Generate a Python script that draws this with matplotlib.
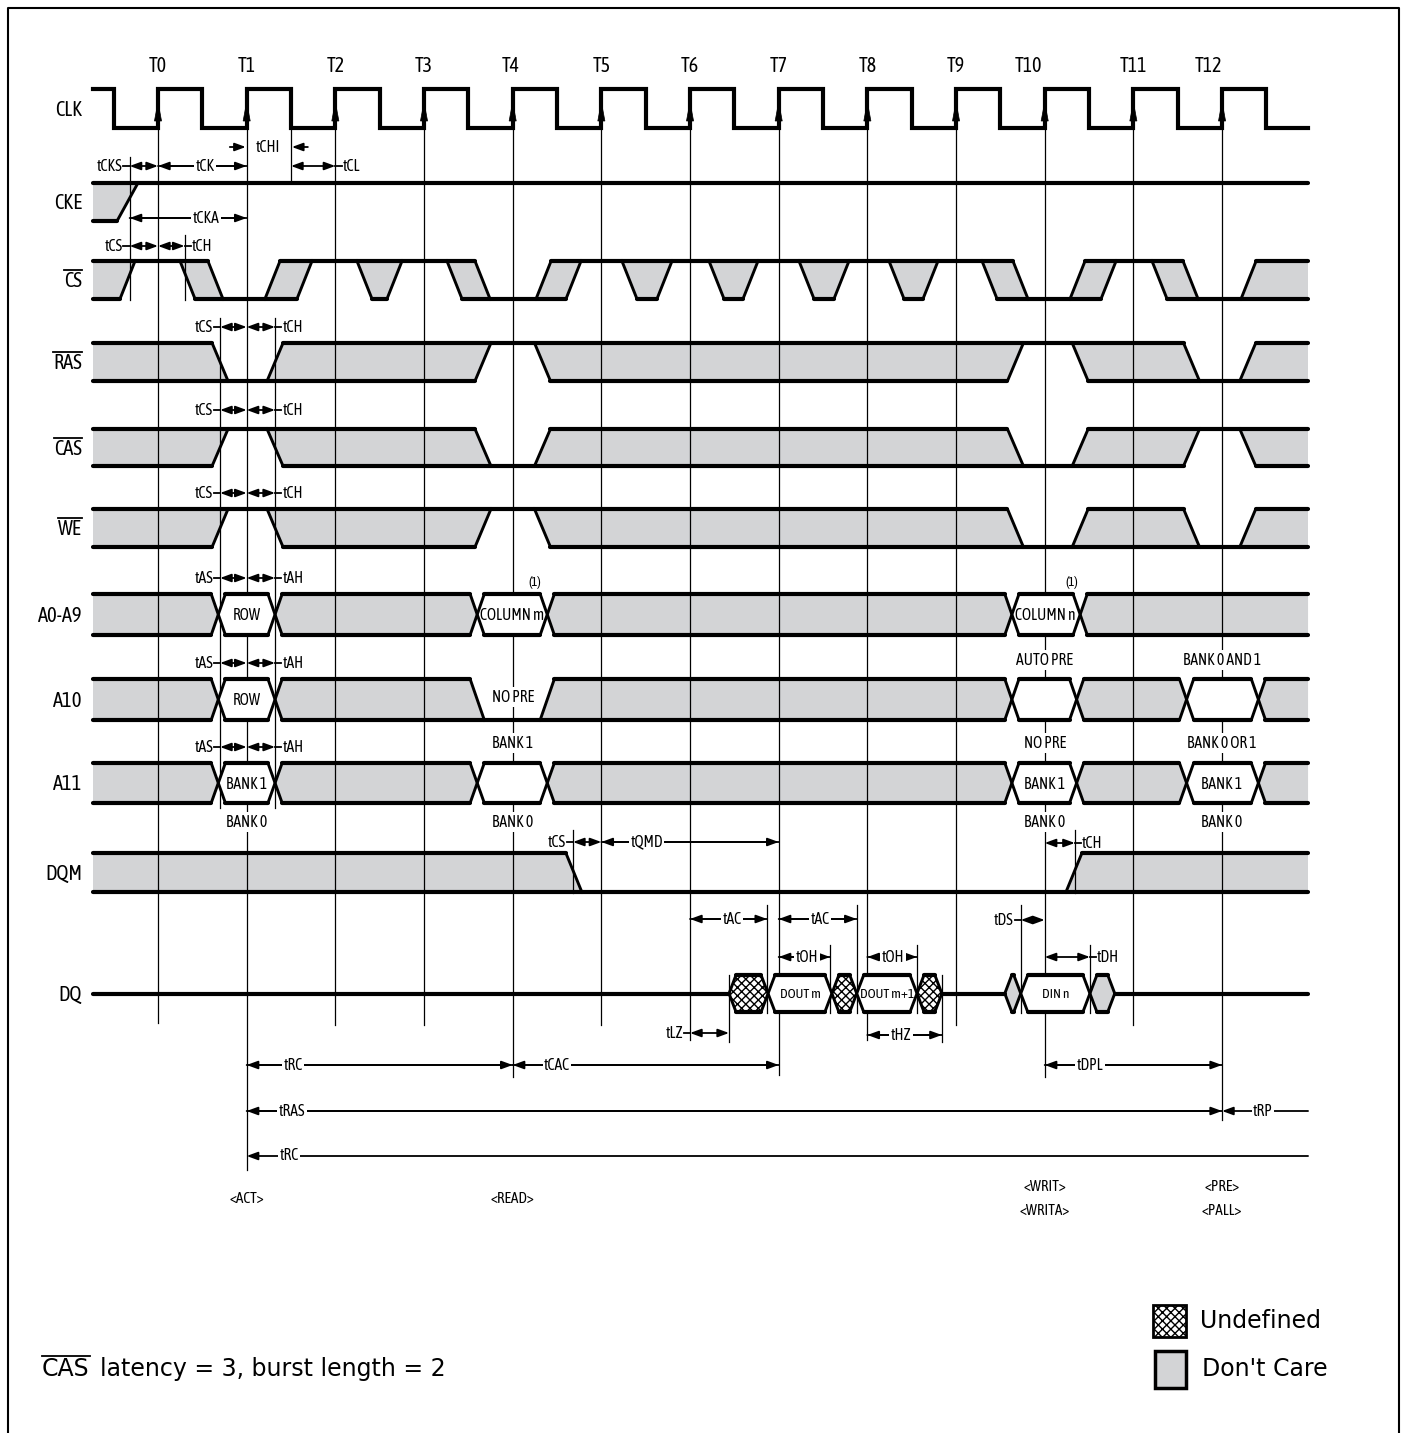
import matplotlib.pyplot as plt
import matplotlib.font_manager as fm
from matplotlib.patches import Polygon, Rectangle

plt.rcParams['hatch.linewidth'] = 1.0

# ---------------- data (time in clock periods, T0 = 0) ----------------
T_LABELS = ['T0', 'T1', 'T2', 'T3', 'T4', 'T5', 'T6', 'T7', 'T8', 'T9', 'T10', 'T11', 'T12']
T_EDGES = [0, 1, 2, 3, 4, 5, 6, 7, 8, 9, 10, 11, 12]
T_START, T_END = -0.733, 12.97

CLK = [(-0.733, 'H'), (-0.5, 'L'), (0, 'H'), (0.5, 'L'), (1, 'H'), (1.5, 'L'), (2, 'H'), (2.5, 'L'),
       (3, 'H'), (3.5, 'L'), (4, 'H'), (4.5, 'L'), (5, 'H'), (5.5, 'L'), (6, 'H'), (6.5, 'L'),
       (7, 'H'), (7.5, 'L'), (8, 'H'), (8.5, 'L'), (9, 'H'), (9.5, 'L'), (10, 'H'), (10.5, 'L'),
       (11, 'H'), (11.5, 'L'), (12, 'H'), (12.5, 'L')]

# states: H high, L low, Z hi-z, X don't care, V valid, U undefined
CKE = [(-0.733, 'X'), (-0.344, 'H')]
CS = [(-0.733, 'X'), (-0.344, 'H'), (0.333, 'X'), (0.648, 'L'), (1.291, 'X'), (1.652, 'H'),
      (2.329, 'X'), (2.667, 'H'), (3.344, 'X'), (3.660, 'L'), (4.348, 'X'), (4.686, 'H'),
      (5.317, 'X'), (5.712, 'H'), (6.299, 'X'), (6.682, 'H'), (7.314, 'X'), (7.708, 'H'),
      (8.329, 'X'), (8.712, 'H'), (9.378, 'X'), (9.727, 'L'), (10.370, 'X'), (10.720, 'H'),
      (11.295, 'X'), (11.645, 'L'), (12.299, 'X')]
RAS = [(-0.733, 'X'), (0.70, 'L'), (1.32, 'X'), (3.665, 'H'), (4.336, 'X'), (9.67, 'H'),
       (10.40, 'X'), (11.656, 'L'), (12.29, 'X')]
CAS = [(-0.733, 'X'), (0.70, 'H'), (1.32, 'X'), (3.665, 'L'), (4.336, 'X'), (9.67, 'L'),
       (10.40, 'X'), (11.656, 'H'), (12.29, 'X')]
WE = [(-0.733, 'X'), (0.70, 'H'), (1.32, 'X'), (3.665, 'H'), (4.336, 'X'), (9.67, 'L'),
      (10.40, 'X'), (11.656, 'L'), (12.29, 'X')]
A0_A9 = [(-0.733, 'X'), (0.68, 'V'), (1.32, 'X'), (3.60, 'V'), (4.39, 'X'), (9.63, 'V'), (10.40, 'X')]
A10 = [(-0.733, 'X'), (0.68, 'V'), (1.32, 'X'), (3.60, 'L'), (4.39, 'X'), (9.63, 'V'),
       (10.36, 'X'), (11.60, 'V'), (12.41, 'X')]
A11 = [(-0.733, 'X'), (0.68, 'V'), (1.32, 'X'), (3.60, 'V'), (4.39, 'X'), (9.63, 'V'),
       (10.36, 'X'), (11.60, 'V'), (12.41, 'X')]
DQM = [(-0.733, 'X'), (4.69, 'L'), (10.33, 'X')]
DQ = [(-0.733, 'Z'), (6.44, 'U'), (6.88, 'V'), (7.60, 'U'), (7.88, 'V'), (8.56, 'U'), (8.84, 'Z'),
      (9.55, 'X'), (9.73, 'V'), (10.51, 'X'), (10.79, 'Z')]

SIGNALS = [('CLK', CLK), ('CKE', CKE), ('CS', CS), ('RAS', RAS), ('CAS', CAS), ('WE', WE),
           ('A0-A9', A0_A9), ('A10', A10), ('A11', A11), ('DQM', DQM), ('DQ', DQ)]
OVERLINED = ['CS', 'RAS', 'CAS', 'WE']

BUS_TEXT = [('A0-A9', 1.0, 'ROW'), ('A0-A9', 3.99, 'COLUMN m'), ('A0-A9', 10.01, 'COLUMN n'),
            ('A10', 1.0, 'ROW'), ('A11', 1.0, 'BANK 1'), ('A11', 10.0, 'BANK 1'),
            ('A11', 12.0, 'BANK 1')]
DQ_TEXT = [(7.24, 'DOUT m'), (8.22, 'DOUT m+1'), (10.12, 'DIN n')]
NOTES = [(4.0, 'NO PRE', 'a10_in'),
         (1.0, 'BANK 0', 'a11_below'), (4.0, 'BANK 1', 'a11_above'), (4.0, 'BANK 0', 'a11_below'),
         (10.0, 'AUTO PRE', 'a10_above'), (10.0, 'NO PRE', 'a11_above'), (10.0, 'BANK 0', 'a11_below'),
         (12.0, 'BANK 0 AND 1', 'a10_above'), (12.0, 'BANK 0 OR 1', 'a11_above'),
         (12.0, 'BANK 0', 'a11_below')]
FOOTNOTES = [(4.25, '(1)'), (10.31, '(1)')]
COMMANDS = [(1, ['<ACT>']), (4, ['<READ>']), (10, ['<WRIT>', '<WRITA>']), (12, ['<PRE>', '<PALL>'])]

# timing reference marks (t, level key)
MARKS = [(-0.32, 'cks'), (0.30, 'csh'), (1.5, 'chi'), (0.70, 'cmd'), (1.32, 'cmd'),
         (4.68, 'dqm'), (10.34, 'dqm'), (6.44, 'lz'), (8.84, 'lz'),
         (6.87, 'ac'), (7.88, 'ac'), (9.73, 'ac'), (7.58, 'oh'), (8.56, 'oh'), (10.51, 'oh')]

# centered spans: label, t0, t1, level key, label position, arrow at end
SPANS = [('tCK', 0, 1, 'y166', 0.53, True), ('tCKA', -0.32, 1, 'y218', 0.54, True),
         ('tQMD', 5, 7, 'y842', 5.51, True), ('tAC', 6, 6.87, 'y919', 6.47, True),
         ('tAC', 7, 7.88, 'y919', 7.47, True), ('tOH', 7, 7.58, 'y957', 7.32, True),
         ('tOH', 8, 8.56, 'y957', 8.29, True), ('tHZ', 8, 8.84, 'y1035', 8.38, True),
         ('tRC', 1, 4, 'y1065', 1.52, True), ('tCAC', 4, 7, 'y1065', 4.50, True),
         ('tDPL', 10, 12, 'y1065', 10.51, True), ('tRAS', 1, 12, 'y1111', 1.51, True),
         ('tRP', 12, 12.97, 'y1111', 12.46, False), ('tRC', 1, 12.97, 'y1156', 1.48, False)]
# side labelled spans: label, t0, t1, level key, text side
SIDE = [('tCKS', -0.32, 0, 'y166', 'L'), ('tCL', 1.5, 2, 'y166', 'R'),
        ('tCS', -0.32, 0, 'y246', 'L'), ('tCH', 0, 0.30, 'y246', 'R'),
        ('tCS', 0.70, 1, 'y327', 'L'), ('tCH', 1, 1.32, 'y327', 'R'),
        ('tCS', 0.70, 1, 'y410', 'L'), ('tCH', 1, 1.32, 'y410', 'R'),
        ('tCS', 0.70, 1, 'y493', 'L'), ('tCH', 1, 1.32, 'y493', 'R'),
        ('tAS', 0.70, 1, 'y578', 'L'), ('tAH', 1, 1.32, 'y578', 'R'),
        ('tAS', 0.70, 1, 'y663', 'L'), ('tAH', 1, 1.32, 'y663', 'R'),
        ('tAS', 0.70, 1, 'y747', 'L'), ('tAH', 1, 1.32, 'y747', 'R'),
        ('tCS', 4.68, 5, 'y842', 'L'), ('tLZ', 6, 6.44, 'y1033', 'L'),
        ('tCH', 10, 10.34, 'y843', 'R'), ('tDS', 9.73, 10, 'y920', 'L'),
        ('tDH', 10, 10.51, 'y957', 'R')]

# ---------------- layout (pixels) ----------------
PX0, PX_PER_T = 158, 88.67
ROW_Y = {'CLK': (89, 128), 'CKE': (183, 221), 'CS': (261, 299), 'RAS': (343, 381),
         'CAS': (429, 466), 'WE': (509, 547), 'A0-A9': (594, 635), 'A10': (679, 720),
         'A11': (763, 803), 'DQM': (853, 892), 'DQ': (975, 1012)}
HALF = {'CLK': 0, 'CKE': 0.118, 'CS': 0.085, 'RAS': 0.09, 'CAS': 0.09, 'WE': 0.09,
        'A0-A9': 0.08, 'A10': 0.08, 'A11': 0.08, 'DQM': 0.09, 'DQ': 0.079}
MARK_Y = {'cks': (157, 300), 'csh': (235, 300), 'chi': (128, 183), 'cmd': (318, 808),
          'dqm': (830, 893), 'lz': (975, 1042), 'ac': (905, 1013), 'oh': (945, 1013)}
T_LINE_END = [1023, 1170, 1025, 1025, 1077, 1025, 1040, 1075, 1040, 1025, 1077, 1025, 1120]
T_LABEL_DX = [0, 0, 0, 0, -2, 0, 0, 0, 0, 0, -16, 0, -14]
NOTE_Y = {'a10_in': 697, 'a10_above': 660, 'a11_above': 743, 'a11_below': 822}
GRAY = '#d3d4d6'
BAND = ('X', 'V', 'U')


def tx(px):
    return (px - PX0) / PX_PER_T


def pick_font():
    fl = fm.fontManager.ttflist

    def ok(f):
        return f.style == 'normal' and str(f.weight).lower() in ('400', 'normal', 'regular', 'book')
    for f in fl:
        if f.name == 'Liberation Sans Narrow' and ok(f):
            return f.fname
    for f in fl:
        if 'Condensed' in f.name and ok(f) and 'Light' not in f.name:
            return f.fname
    for f in fl:
        if f.name.startswith('DejaVu Sans') and f.stretch == 'condensed' and ok(f):
            return f.fname
    for f in fl:
        if f.name == 'Liberation Sans' and ok(f):
            return f.fname
    return fm.findfont('DejaVu Sans')


NARROW = pick_font()


def fp(size):
    return fm.FontProperties(fname=NARROW, size=size)


fig = plt.figure(figsize=(14.08, 14.33), dpi=100)
ax = fig.add_axes([0, 0, 1, 1])
ax.set_xlim(tx(0), tx(1408))
ax.set_ylim(1433, 0)
ax.axis('off')
renderer = fig.canvas.get_renderer()


def fit(s, target, cap):
    t = ax.text(0, 0, s, fontproperties=fp(10))
    w = t.get_window_extent(renderer).width
    t.remove()
    return min(cap, 10 * target / w)


SZ_T = fit('T10', 27, 15)
SZ_NAME = fit('A0-A9', 44, 15)
SZ_ANN = fit('BANK 0 AND 1', 78, 12.5)
SZ_DQ = fit('DOUT m+1', 54, 10)
SZ_CMD = fit('<WRITA>', 51, 11)

LW_H, LW_E = 3.0, 2.1


def line(xs, ys, lw=LW_H, z=4):
    ax.plot(xs, ys, color='k', lw=lw, solid_capstyle='round', solid_joinstyle='round', zorder=z)


def draw_signal(trans, ytop, ybot, h):
    ymid = (ytop + ybot) / 2
    lvl = {'H': ytop, 'L': ybot, 'Z': ymid}
    for i, (c, s) in enumerate(trans):
        prev = trans[i - 1][1] if i else None
        c2, nxt = trans[i + 1] if i + 1 < len(trans) else (T_END, None)
        if s in BAND:
            if prev is None:
                lt = lb = c; lm = None
            elif prev in BAND or prev == 'Z':
                lt = lb = c + h; lm = c
            elif prev == 'H':
                lt, lb, lm = c - h, c + h, None
            else:
                lt, lb, lm = c + h, c - h, None
            if nxt is None:
                rt = rb = c2; rm = None
            elif nxt in BAND or nxt == 'Z':
                rt = rb = c2 - h; rm = c2
            elif nxt == 'H':
                rt, rb, rm = c2 + h, c2 - h, None
            else:
                rt, rb, rm = c2 - h, c2 + h, None
            pts = [(lt, ytop), (rt, ytop)]
            if rm is not None:
                pts.append((rm, ymid))
            pts.append((rb, ybot))
            pts.append((lb, ybot))
            if lm is not None:
                pts.append((lm, ymid))
            if s == 'X':
                ax.add_patch(Polygon(pts, facecolor=GRAY, edgecolor='none', zorder=1))
            elif s == 'V':
                ax.add_patch(Polygon(pts, facecolor='white', edgecolor='none', zorder=3))
            else:
                ax.add_patch(Polygon(pts, facecolor='white', edgecolor='black', lw=0,
                                     hatch='xxxx', zorder=3))
            line([lt, rt], [ytop, ytop])
            line([lb, rb], [ybot, ybot])
            if lm is not None:
                line([lt, lm, lb], [ytop, ymid, ybot], LW_E)
            elif prev is not None:
                line([lt, lb], [ytop, ybot], LW_E)
            if rm is not None:
                line([rt, rm, rb], [ytop, ymid, ybot], LW_E)
            elif nxt is not None:
                line([rt, rb], [ytop, ybot], LW_E)
        else:
            y = lvl[s]
            x0 = c + h if (prev in BAND and s != 'Z') else c
            x1 = c2 - h if (nxt in BAND and s != 'Z') else c2
            line([x0, x1], [y, y])


def label(x, y, s, size=None, ha='center', bg=True):
    box = dict(facecolor='white', edgecolor='none', pad=1.0) if bg else None
    return ax.text(x, y, s, fontproperties=fp(size or SZ_ANN), ha=ha, va='center',
                   bbox=box, zorder=6)


def overline(t, dy=2):
    bb = t.get_window_extent(renderer)
    inv = ax.transData.inverted()
    (x0, y0), (x1, y1) = inv.transform([(bb.x0, bb.y1 + dy), (bb.x1, bb.y1 + dy)])
    ax.plot([x0, x1], [y0, y1], color='k', lw=1.3, zorder=6)


def arrow(x0, x1, y, style='-|>'):
    ax.annotate('', xy=(x1, y), xytext=(x0, y), zorder=5,
                arrowprops=dict(arrowstyle=style + ',head_length=0.6,head_width=0.22',
                                color='k', lw=1.3, shrinkA=0, shrinkB=0, mutation_scale=11))


# clock
ytop, ybot = ROW_Y['CLK']
xs, ys = [], []
for i, (c, s) in enumerate(CLK):
    c2 = CLK[i + 1][0] if i + 1 < len(CLK) else T_END
    y = ytop if s == 'H' else ybot
    xs += [c, c2]
    ys += [y, y]
ax.plot(xs, ys, color='k', lw=LW_H, solid_joinstyle='miter', zorder=4)
for t in T_EDGES:
    ax.add_patch(Polygon([(t, 102), (t - 0.04, 121), (t + 0.04, 121)], facecolor='k',
                         edgecolor='k', lw=0.5, zorder=5))

# clock reference lines and labels
for t, lab, yend, dx in zip(T_EDGES, T_LABELS, T_LINE_END, T_LABEL_DX):
    ax.plot([t, t], [ytop, yend], color='k', lw=0.9, zorder=2)
    ax.text(t + dx / PX_PER_T, 66, lab, fontproperties=fp(SZ_T), ha='center', va='center')

for t, key in MARKS:
    ax.plot([t, t], MARK_Y[key], color='k', lw=0.9, zorder=2)

# signals
for name, trans in SIGNALS:
    yt, yb = ROW_Y[name]
    if name != 'CLK':
        draw_signal(trans, yt, yb, HALF[name])
    t = ax.text(tx(82), (yt + yb) / 2 + 1, name, fontproperties=fp(SZ_NAME), ha='right',
                va='center')
    if name in OVERLINED:
        overline(t, 1)

for row, t, s in BUS_TEXT:
    yt, yb = ROW_Y[row]
    label(t, (yt + yb) / 2 + 1, s, bg=False)

for t, s in DQ_TEXT:
    yt, yb = ROW_Y['DQ']
    label(t, (yt + yb) / 2 + 1, s, size=SZ_DQ, bg=False)

for t, s, key in NOTES:
    label(t, NOTE_Y[key], s)

for t, s in FOOTNOTES:
    label(t, 582, s, size=SZ_ANN * 0.85, bg=False)

for t, cmds in COMMANDS:
    if len(cmds) == 1:
        label(t, 1199, cmds[0], size=SZ_CMD, bg=False)
    else:
        label(t, 1187, cmds[0], size=SZ_CMD, bg=False)
        label(t, 1211, cmds[1], size=SZ_CMD, bg=False)

# timing annotations
for s, t0, t1, key, tl, both in SPANS:
    y = int(key[1:])
    arrow(t1, t0, y)
    if both:
        arrow(t0, t1, y)
    label(tl, y, s)

for s, t0, t1, key, side in SIDE:
    y = int(key[1:])
    arrow(t0, t1, y, '<|-|>')
    if side == 'L':
        ax.plot([t0 - 0.07, t0], [y, y], color='k', lw=1.3, zorder=5)
        label(t0 - 0.08, y, s, ha='right', bg=False)
    else:
        ax.plot([t1, t1 + 0.07], [y, y], color='k', lw=1.3, zorder=5)
        label(t1 + 0.08, y, s, ha='left', bg=False)

# tCHI
arrow(0.81, 0.99, 147)
arrow(1.69, 1.51, 147)
label(1.24, 147, 'tCHI', bg=False)

# legend
ax.add_patch(Rectangle((tx(1153), 1305), 33 / PX_PER_T, 32, facecolor='white', edgecolor='k',
                       lw=2, hatch='xxxx', zorder=3))
ax.text(tx(1200), 1321, 'Undefined', fontsize=17, family='DejaVu Sans', va='center')
ax.add_patch(Rectangle((tx(1155), 1351), 31 / PX_PER_T, 37, facecolor=GRAY, edgecolor='k',
                       lw=2.5, zorder=3))
ax.text(tx(1202), 1369, "Don't Care", fontsize=17, family='DejaVu Sans', va='center')

# note
tc = ax.text(tx(42), 1369, 'CAS', fontsize=17, family='DejaVu Sans', va='center')
overline(tc, 1)
bb = tc.get_window_extent(renderer)
xr = ax.transData.inverted().transform((bb.x1, 0))[0]
ax.text(xr + 10 / PX_PER_T, 1369, 'latency = 3, burst length = 2', fontsize=17,
        family='DejaVu Sans', va='center')

# frame
ax.plot([tx(8), tx(8), tx(1399), tx(1399)], [1440, 8, 8, 1440], color='k', lw=1.5)

fig.savefig('out.png', dpi=100)
